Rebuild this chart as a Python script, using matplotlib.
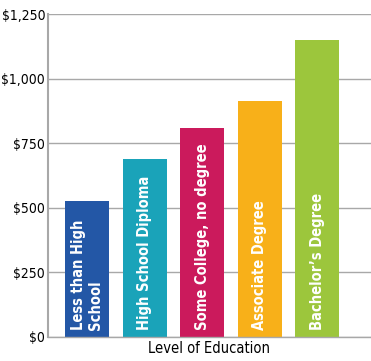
import matplotlib
matplotlib.use('Agg')
import matplotlib.pyplot as plt
import numpy as np

# median weekly earnings by education level
categories = ['Less than High\nSchool', 'High School Diploma', 'Some College, no degree',
              'Associate Degree', "Bachelor\u2019s Degree"]
earnings = [525, 690, 810, 915, 1150]
colors = ['#2357a6', '#1aa3b9', '#cb1a5c', '#f8b019', '#9cc63c']
ticks = [0, 250, 500, 750, 1000, 1250]
tick_labels = ['$0', '$250', '$500', '$750', '$1,000', '$1,250']

plt.rcParams['font.family'] = ['DejaVu Sans']
plt.rcParams['font.stretch'] = 'condensed'

fig = plt.figure(figsize=(3.71, 3.61), dpi=100)
ax = fig.add_axes([48 / 371, 1 - 337 / 361, 1 - 48 / 371, (337 - 14) / 361])

pos = np.arange(len(categories))
ax.bar(pos, earnings, width=0.765, color=colors, zorder=2)

for p, lab in zip(pos, categories):
    ax.text(p, 28, lab, rotation=90, ha='center', va='bottom', color='white',
            fontsize=10.5, fontweight='bold', linespacing=1.2,
            multialignment='left', zorder=3)

ax.set_xlim(-0.678, 4.93)
ax.set_ylim(0, 1250)
ax.set_yticks(ticks)
ax.set_yticklabels(tick_labels, fontsize=10)
ax.set_xticks([])
ax.tick_params(axis='y', length=0, pad=2)
ax.yaxis.grid(True, color='#a8a8a8', linewidth=1.0, zorder=0)
ax.set_axisbelow(True)

for side in ['top', 'right']:
    ax.spines[side].set_visible(False)
ax.spines['left'].set_color('#a8a8a8')
ax.spines['bottom'].set_color('#a8a8a8')
ax.spines['left'].set_linewidth(1.5)
ax.spines['bottom'].set_linewidth(1.0)

ax.set_xlabel('Level of Education', fontsize=10.5, labelpad=3)

plt.savefig('out.png', dpi=100)
